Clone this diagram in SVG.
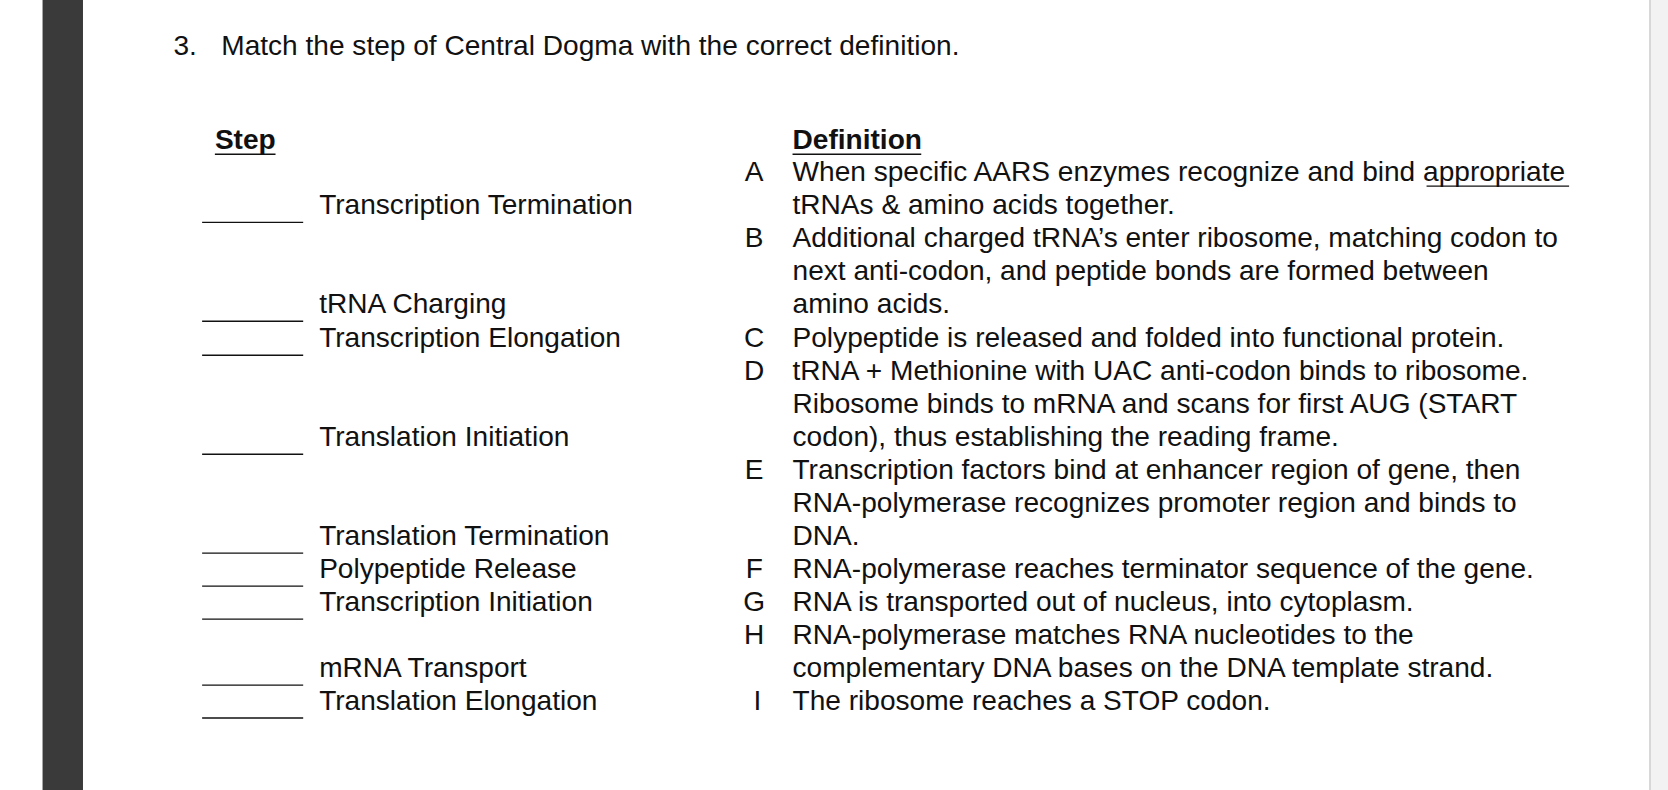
<svg xmlns="http://www.w3.org/2000/svg" width="1668" height="790" viewBox="0 0 1668 790">
<style>
text{font-family:"Liberation Sans",Arial,sans-serif;font-size:26.4px;fill:#111}
.l{text-anchor:middle}
.b{stroke:#111;stroke-width:1.3}
</style>
<rect width="1668" height="790" fill="#fff"/>
<g transform="scale(1.0638)">
<rect x="40" y="0" width="38" height="743" fill="#3a3a3a"/>
<rect x="1551" y="0" width="17" height="743" fill="#f2f2f2"/>
<line x1="1551" y1="0" x2="1551" y2="743" stroke="#bbb" stroke-width="1"/>
<g id="title"><text x="163" y="52">3.</text><text x="208" y="52">Match the step of Central Dogma with the correct definition.</text></g>
<g id="steps">
<text x="202" y="140" font-weight="bold">Step</text><line class="b" x1="202" y1="145" x2="259" y2="145" stroke-width="2"/>
<g class="b"><line x1="190" y1="209" x2="285" y2="209"/><line x1="190" y1="302" x2="285" y2="302"/><line x1="190" y1="334" x2="285" y2="334"/><line x1="190" y1="427" x2="285" y2="427"/><line x1="190" y1="520" x2="285" y2="520"/><line x1="190" y1="551" x2="285" y2="551"/><line x1="190" y1="582" x2="285" y2="582"/><line x1="190" y1="644" x2="285" y2="644"/><line x1="190" y1="675" x2="285" y2="675"/></g>
<text x="300" y="201">Transcription Termination</text>
<text x="300" y="294">tRNA Charging</text>
<text x="300" y="326">Transcription Elongation</text>
<text x="300" y="419">Translation Initiation</text>
<text x="300" y="512">Translation Termination</text>
<text x="300" y="543">Polypeptide Release</text>
<text x="300" y="574">Transcription Initiation</text>
<text x="300" y="636">mRNA Transport</text>
<text x="300" y="667">Translation Elongation</text>
</g>
<g id="definitions">
<text x="745" y="140" font-weight="bold">Definition</text><line class="b" x1="745" y1="145" x2="866" y2="145" stroke-width="2"/>
<text class="l" x="709" y="170">A</text><text x="745" y="170">When specific AARS enzymes recognize and bind appropriate</text>
<line class="b" x1="1341" y1="175" x2="1475" y2="175"/>
<text x="745" y="201">tRNAs &amp; amino acids together.</text>
<text class="l" x="709" y="232">B</text><text x="745" y="232">Additional charged tRNA’s enter ribosome, matching codon to</text>
<text x="745" y="263">next anti-codon, and peptide bonds are formed between</text>
<text x="745" y="294">amino acids.</text>
<text class="l" x="709" y="326">C</text><text x="745" y="326">Polypeptide is released and folded into functional protein.</text>
<text class="l" x="709" y="357">D</text><text x="745" y="357">tRNA + Methionine with UAC anti-codon binds to ribosome.</text>
<text x="745" y="388">Ribosome binds to mRNA and scans for first AUG (START</text>
<text x="745" y="419">codon), thus establishing the reading frame.</text>
<text class="l" x="709" y="450">E</text><text x="745" y="450">Transcription factors bind at enhancer region of gene, then</text>
<text x="745" y="481">RNA-polymerase recognizes promoter region and binds to</text>
<text x="745" y="512">DNA.</text>
<text class="l" x="709" y="543">F</text><text x="745" y="543">RNA-polymerase reaches terminator sequence of the gene.</text>
<text class="l" x="709" y="574">G</text><text x="745" y="574">RNA is transported out of nucleus, into cytoplasm.</text>
<text class="l" x="709" y="605">H</text><text x="745" y="605">RNA-polymerase matches RNA nucleotides to the</text>
<text x="745" y="636">complementary DNA bases on the DNA template strand.</text>
<text class="l" x="712" y="667">I</text><text x="745" y="667">The ribosome reaches a STOP codon.</text>
</g>
</g>
</svg>
